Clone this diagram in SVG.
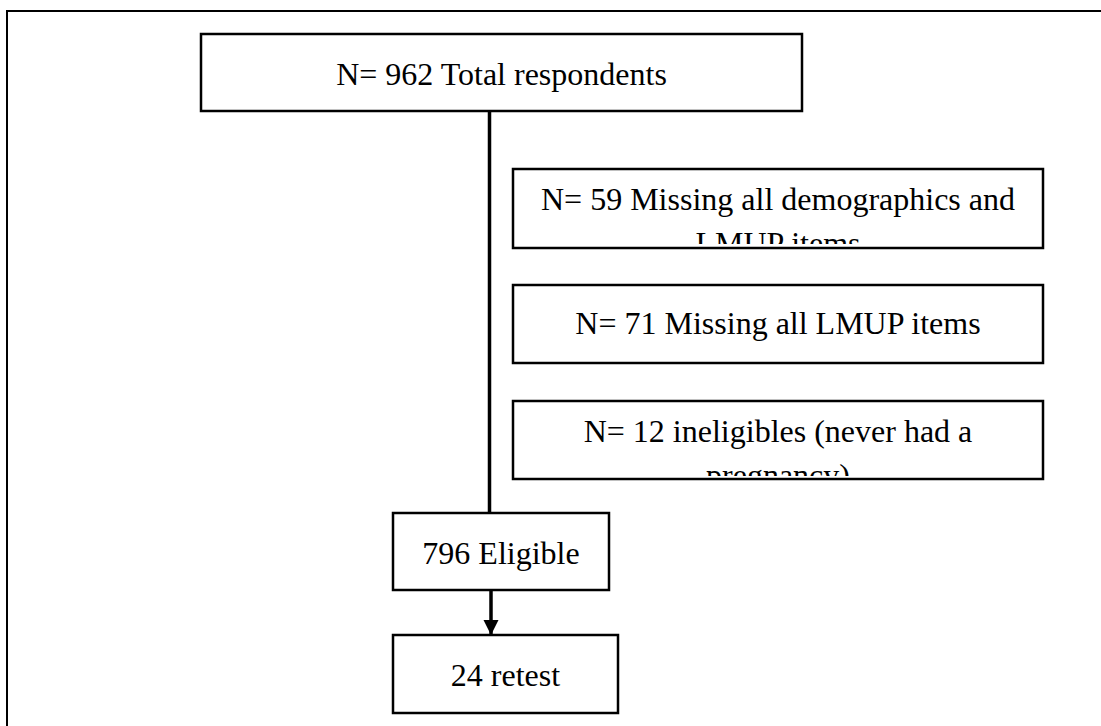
<svg xmlns="http://www.w3.org/2000/svg" width="1101" height="726" viewBox="0 0 1101 726">
<style>
.box{fill:#fff;stroke:#000;stroke-width:2.5}
.t{font-family:"Liberation Serif","Times New Roman",serif;font-size:32px;fill:#000;text-anchor:middle}
.conn{stroke:#000;stroke-width:3.5;fill:none}
.frame{stroke:#000;stroke-width:2;fill:none}
</style>
<defs>
<marker id="ah" markerUnits="userSpaceOnUse" markerWidth="16" markerHeight="16" refX="15" refY="8" orient="auto">
<path d="M0,0.5 L15,8 L0,15.5 Z" fill="#000"/>
</marker>
<clipPath id="c59"><rect x="515" y="171" width="526" height="73"/></clipPath>
<clipPath id="c12"><rect x="515" y="403" width="526" height="73"/></clipPath>
</defs>
<rect width="1101" height="726" fill="#fff"/>
<path class="frame" d="M7,726 V11 H1101"/>
<g id="connectors">
<line class="conn" x1="489.5" y1="111" x2="489.5" y2="513"/>
<line class="conn" x1="491" y1="590" x2="491" y2="635" marker-end="url(#ah)"/>
</g>
<g id="n962">
<rect class="box" x="201" y="34" width="601" height="77"/>
<text class="t" x="501.5" y="85">N= 962 Total respondents</text>
</g>
<g id="n59">
<rect class="box" x="513" y="169" width="530" height="79"/>
<g clip-path="url(#c59)">
<text class="t" x="778" y="210">N= 59 Missing all demographics and</text>
<text class="t" x="778" y="254">LMUP items</text>
</g>
</g>
<g id="n71">
<rect class="box" x="513" y="285" width="530" height="78"/>
<text class="t" x="778" y="334">N= 71 Missing all LMUP items</text>
</g>
<g id="n12">
<rect class="box" x="513" y="401" width="530" height="78"/>
<g clip-path="url(#c12)">
<text class="t" x="778" y="442">N= 12 ineligibles (never had a</text>
<text class="t" x="778" y="486">pregnancy)</text>
</g>
</g>
<g id="eligible">
<rect class="box" x="393" y="513" width="216" height="77"/>
<text class="t" x="501" y="564">796 Eligible</text>
</g>
<g id="retest">
<rect class="box" x="393" y="635" width="225" height="78"/>
<text class="t" x="505.5" y="686">24 retest</text>
</g>
</svg>
